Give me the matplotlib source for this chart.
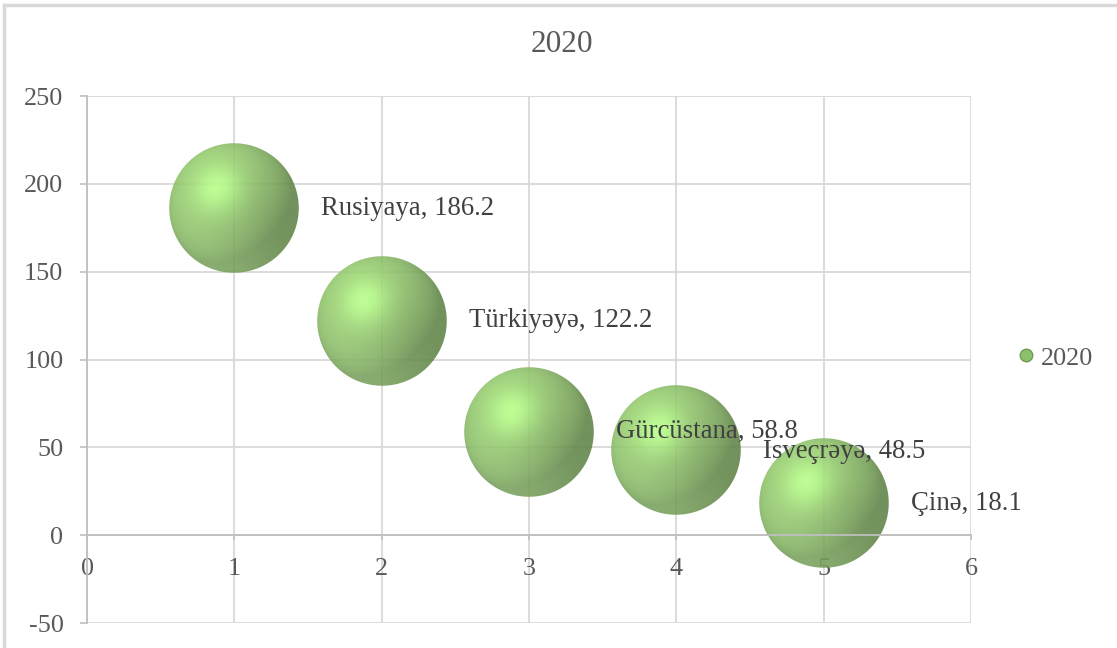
import numpy as np
import matplotlib
matplotlib.use("Agg")
import matplotlib.pyplot as plt
from matplotlib.offsetbox import OffsetImage, AnnotationBbox
from matplotlib.lines import Line2D

plt.rcParams['font.family'] = ['Liberation Serif', 'DejaVu Serif']
plt.rcParams['axes.unicode_minus'] = False

# data
series_name = "2020"
countries = ["Rusiyaya", "Türkiyəyə", "Gürcüstana", "İsveçrəyə", "Çinə"]
x_vals = [1, 2, 3, 4, 5]
y_vals = [186.2, 122.2, 58.8, 48.5, 18.1]
x_ticks = [0, 1, 2, 3, 4, 5, 6]
y_ticks = [-50, 0, 50, 100, 150, 200, 250]

W, H = 1117, 648
fig = plt.figure(figsize=(W / 100, H / 100), dpi=100)
ax = fig.add_axes([87 / W, 1 - 623 / H, 884 / W, (623 - 96) / H])


# shaded sphere picture used as bubble marker
def sphere_img(n=260, base=(0.57, 0.78, 0.42), alpha=0.88):
    c = (np.arange(n) + 0.5) / n * 2 - 1
    xx, yy = np.meshgrid(c, -c)
    r2 = xx ** 2 + yy ** 2
    z = np.sqrt(np.clip(1 - r2, 0, 1))
    L = np.array([-0.46, 0.55, 0.69])
    L = L / np.linalg.norm(L)
    diff = np.clip(xx * L[0] + yy * L[1] + z * L[2], 0, 1)
    Hv = L + np.array([0, 0, 1.0])
    Hv = Hv / np.linalg.norm(Hv)
    spec = np.clip(xx * Hv[0] + yy * Hv[1] + z * Hv[2], 0, 1) ** 14
    L2 = np.array([-0.3, -0.85, 0.3])
    L2 = L2 / np.linalg.norm(L2)
    rim = np.clip(xx * L2[0] + yy * L2[1] + z * L2[2], 0, 1) ** 2
    base = np.array(base)
    rgb = base[None, None, :] * (0.66 + 0.40 * diff[..., None])
    rgb = rgb + 0.2 * spec[..., None] * np.array([0.6, 0.95, 0.45])
    rgb = rgb + 0.12 * rim[..., None] * np.array([0.8, 1.0, 0.7])
    rgb = np.clip(rgb, 0, 1)
    a = np.clip((1 - np.sqrt(r2)) * n / 2, 0, 1) * alpha
    return np.dstack([rgb, a])


img = sphere_img()
for xv, yv in zip(x_vals, y_vals):
    ob = OffsetImage(img, zoom=130 / 260, dpi_cor=False)
    ab = AnnotationBbox(ob, (xv, yv), frameon=False, zorder=2, pad=0)
    ax.add_artist(ab)

for name, xv, yv in zip(countries, x_vals, y_vals):
    ax.annotate(f"{name}, {yv:.1f}", xy=(xv, yv), xytext=(87 * 0.72, 0),
                textcoords='offset points', ha='left', va='center',
                fontsize=19.3, color='#404040', zorder=5)

ax.set_xlim(0, 6)
ax.set_ylim(-50, 250)
ax.set_xticks(x_ticks)
ax.set_yticks(y_ticks)
ax.grid(True, color='#d9d9d9', lw=1.3, zorder=0)
ax.set_axisbelow(True)
for s in ['top', 'right']:
    ax.spines[s].set_visible(False)
ax.spines['bottom'].set_position(('data', 0))
ax.spines['left'].set_color('#bfbfbf')
ax.spines['bottom'].set_color('#bfbfbf')
ax.spines['left'].set_linewidth(1.3)
ax.spines['bottom'].set_linewidth(1.3)
ax.tick_params(axis='y', direction='out', length=5, width=1.2, color='#bfbfbf',
               pad=12, labelsize=18.8, labelcolor='#595959')
ax.tick_params(axis='x', direction='out', length=3.5, width=1.2, color='#bfbfbf',
               pad=13, labelsize=18.8, labelcolor='#595959')

fig.text(562 / W, 1 - 44 / H, series_name, ha='center', va='center',
         fontsize=22.5, color='#595959')

handle = Line2D([], [], marker='o', ls='', markersize=9,
                markerfacecolor='#8cc06a', markeredgecolor='#6f9a52')
fig.legend(handles=[handle], labels=[series_name], loc='center left',
           bbox_to_anchor=(1004 / W, 1 - 358 / H), frameon=False,
           handletextpad=0.1, handlelength=0.9, borderaxespad=0,
           prop={'size': 18.8}, labelcolor='#595959')

# chart frame (cut off by the page)
fig.add_artist(Line2D([3.5 / W, 1], [1 - 4.5 / H, 1 - 4.5 / H], color='#d9d9d9', lw=2.5))
fig.add_artist(Line2D([3.5 / W, 3.5 / W], [0, 1 - 4.5 / H], color='#d9d9d9', lw=2.5))

fig.savefig("out.png", dpi=100)
